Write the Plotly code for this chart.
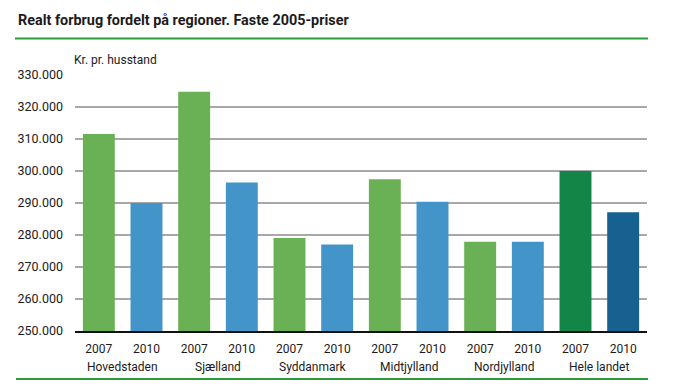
import plotly.graph_objects as go

regions = ["Hovedstaden", "Sjælland", "Syddanmark", "Midtjylland", "Nordjylland", "Hele landet"]
years = ["2007", "2010"]
values_2007 = [311600, 324800, 279100, 297400, 277900, 300000]
values_2010 = [290000, 296400, 277000, 290400, 277900, 287100]
y_ticks = [250000, 260000, 270000, 280000, 290000, 300000, 310000, 320000, 330000]
y_tick_labels = ["250.000", "260.000", "270.000", "280.000", "290.000", "300.000", "310.000", "320.000", "330.000"]

col_2007 = "#6ab054"
col_2010 = "#4394c8"
col_2007_total = "#138647"
col_2010_total = "#16618f"

xs, ys, cols, ticktext = [], [], [], []
for i, r in enumerate(regions):
    total = (r == "Hele landet")
    for j, (yr, v) in enumerate(zip(years, [values_2007[i], values_2010[i]])):
        xs.append(2 * i + j)
        ys.append(v)
        ticktext.append(yr)
        if j == 0:
            cols.append(col_2007_total if total else col_2007)
        else:
            cols.append(col_2010_total if total else col_2010)

FONT = "Roboto, Liberation Sans, sans-serif"
TXT = "#1c1a1a"

fig = go.Figure()
fig.add_trace(go.Bar(
    x=xs, y=ys, marker=dict(color=cols, line=dict(width=0)),
    hoverinfo="skip", showlegend=False,
))

L, R, T, B = 75, 33, 75, 61
W, H = 680, 392
pw = W - L - R
ph = H - T - B

def px_x(p):
    return (p - L) / pw

def px_y(p):
    return (H - B - p) / ph

annotations = []
for i, r in enumerate(regions):
    annotations.append(dict(
        x=2 * i + 0.5, xref="x", y=px_y(366.5), yref="paper",
        text=r, showarrow=False, xanchor="center", yanchor="middle",
        font=dict(family=FONT, size=12, color=TXT),
    ))
annotations.append(dict(
    x=px_x(72), xref="paper", y=px_y(60), yref="paper",
    text="Kr. pr. husstand", showarrow=False, xanchor="left", yanchor="middle",
    font=dict(family=FONT, size=12, color=TXT),
))
annotations.append(dict(
    x=px_x(16), xref="paper", y=px_y(20), yref="paper",
    text="<b>Realt forbrug fordelt på regioner. Faste 2005-priser</b>", showarrow=False,
    xanchor="left", yanchor="middle",
    font=dict(family=FONT, size=14.4, color=TXT),
))

shapes = [
    dict(type="line", xref="paper", yref="paper", x0=px_x(15), x1=px_x(648),
         y0=px_y(38.5), y1=px_y(38.5), line=dict(color="#2e9b3a", width=2)),
    dict(type="line", xref="paper", yref="paper", x0=px_x(16), x1=px_x(648),
         y0=px_y(379), y1=px_y(379), line=dict(color="#2e9b3a", width=2)),
]

fig.update_layout(
    width=W, height=H,
    margin=dict(l=L, r=R, t=T, b=B, autoexpand=False),
    paper_bgcolor="white", plot_bgcolor="white",
    bargap=0.33,
    xaxis=dict(
        range=[-0.5, 11.5], tickmode="array", tickvals=xs, ticktext=ticktext,
        showgrid=False, zeroline=False, showline=True, linecolor="#111111", linewidth=2,
        ticks="", tickfont=dict(family=FONT, size=12, color=TXT), ticklabelstandoff=6,
        fixedrange=True,
    ),
    yaxis=dict(
        range=[250000, 330000], tickmode="array", tickvals=y_ticks, ticktext=y_tick_labels,
        showgrid=True, gridcolor="#a8a8a8", gridwidth=1.5, zeroline=False, showline=False,
        ticks="", tickfont=dict(family=FONT, size=12.5, color=TXT), ticklabelstandoff=11,
        fixedrange=True,
    ),
    annotations=annotations,
    shapes=shapes,
    hovermode=False,
)

fig.write_html("out.html", config={"displayModeBar": False},
               post_script="document.body.style.margin='0';")
